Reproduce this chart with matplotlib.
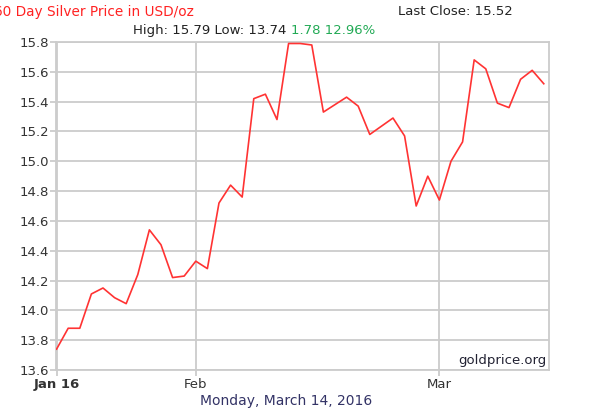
import numpy as np
import matplotlib
matplotlib.use("Agg")
import matplotlib.pyplot as plt

# silver price, one value per trading day
prices = [13.74, 13.88, 13.88, 14.11, 14.15, 14.085, 14.045, 14.24, 14.54, 14.44,
          14.22, 14.23, 14.33, 14.28, 14.72, 14.84, 14.76, 15.42, 15.45, 15.28,
          15.79, 15.79, 15.78, 15.33, 15.38, 15.43, 15.37, 15.18, 15.235, 15.29,
          15.17, 14.70, 14.90, 14.74, 15.00, 15.13, 15.68, 15.62, 15.39, 15.36,
          15.55, 15.61, 15.52]
tick_idx = [0, 12, 33]
tick_labels = ['Jan 16', 'Feb', 'Mar']
y_ticks = [13.6, 13.8, 14.0, 14.2, 14.4, 14.6, 14.8, 15.0, 15.2, 15.4, 15.6, 15.8]

title = '60 Day Silver Price in USD/oz'
last_close = 'Last Close: 15.52'
hilo = 'High: 15.79 Low: 13.74 '
change = '1.78 12.96%'
date_str = 'Monday, March 14, 2016'

plt.rcParams['font.family'] = 'DejaVu Sans'

fig = plt.figure(figsize=(5.89, 4.12), dpi=100)
ax = fig.add_axes([56 / 589, 1 - 370 / 412, 493 / 589, 328 / 412])

x = np.arange(len(prices))
ax.plot(x, prices, color='#ff3333', lw=1.2, zorder=3)

ax.set_xlim(-0.05, 42.45)
ax.set_ylim(13.6, 15.8)
ax.set_yticks(y_ticks)
ax.set_yticklabels(['%.1f' % v for v in y_ticks])
ax.set_xticks(tick_idx)
ax.set_xticklabels(tick_labels)
ax.get_xticklabels()[0].set_fontweight('bold')

ax.grid(True, color='#cccccc', lw=1.3)
ax.set_axisbelow(True)
for s in ax.spines.values():
    s.set_color('#cccccc')
    s.set_linewidth(1.3)
ax.tick_params(axis='both', colors='#cccccc', length=4, width=1.3,
               labelcolor='#333333', labelsize=9.5)
ax.tick_params(axis='x', pad=2)
ax.tick_params(axis='y', pad=1)

ax.text(0.995, 0.01, 'goldprice.org', transform=ax.transAxes, ha='right', va='bottom',
        fontsize=9.5, color='#222233')

# title is cut off at the left edge in the original too
fig.text(-0.011, 0.972, title, color='#ff2222', fontsize=9.8, ha='left', va='center')
fig.text(0.87, 0.972, last_close, color='#222222', fontsize=9.5, ha='right', va='center')
t = fig.text(0.226, 0.925, hilo, color='#222222', fontsize=9.5, ha='left', va='center')
fig.canvas.draw()
bb = t.get_window_extent()
fig.text(bb.x1 / fig.bbox.width, 0.925, change, color='#22aa55', fontsize=9.5,
         ha='left', va='center')
fig.text(0.485, 0.027, date_str, color='#333366', fontsize=10, ha='center', va='center')

fig.savefig('out.png', dpi=100)
